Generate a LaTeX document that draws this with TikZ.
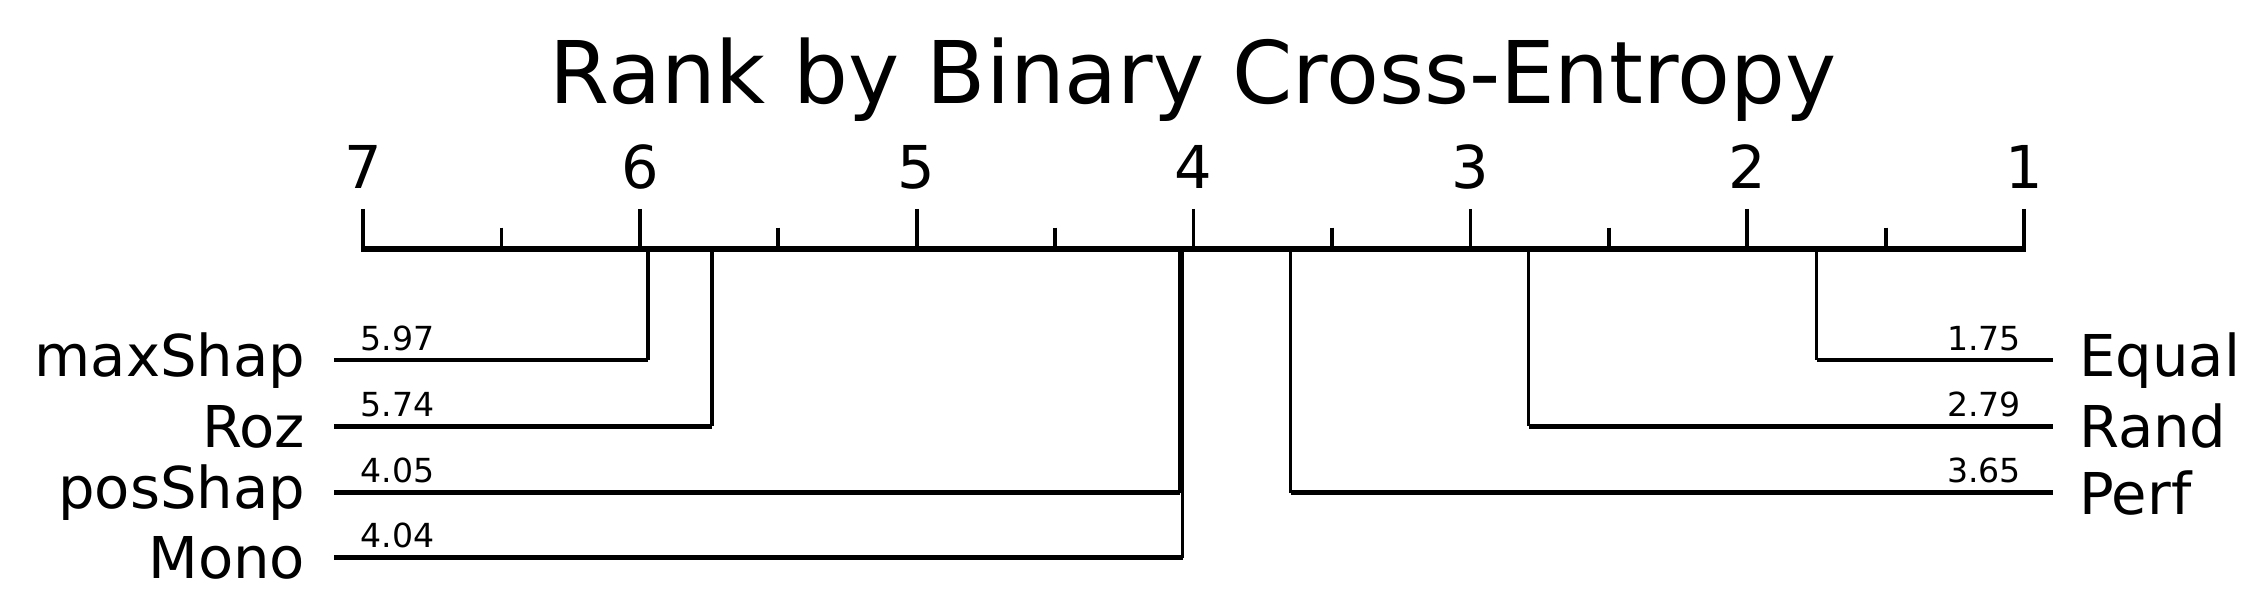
\documentclass[tikz,border=0pt]{standalone}
\usepackage{fontspec}
\setmainfont{DejaVu Sans}
\begin{document}
\begin{tikzpicture}[x=1pt,y=-1pt,
  ln/.style={line width=3.2pt},
  vl/.style={line width=2.6pt},
  tk/.style={line width=2.6pt},
  nm/.style={font=\fontsize{40}{40}\selectfont,inner sep=0pt},
  val/.style={font=\fontsize{23}{23}\selectfont,inner sep=0pt,anchor=base},
  tl/.style={font=\fontsize{41}{41}\selectfont,inner sep=0pt,anchor=base}]
\useasboundingbox (0,0) rectangle (1568,414);
\pgfmathsetmacro{\u}{192.17}
\def\rx#1{{1405-(#1-1)*\u}}
\node[font=\fontsize{60}{60}\selectfont,inner sep=0pt,anchor=base] (title) at (828,72) {Rank by Binary Cross-Entropy};
\coordinate (axL) at (250.7,173);
\coordinate (axR) at (1406.3,173);
\draw[line width=4pt] (axL) -- (axR);
\foreach \r in {1,...,7}{
  \draw[tk] ({1405-(\r-1)*\u},145) -- ({1405-(\r-1)*\u},173);
  \node[tl] at ({1405-(\r-1)*\u},131) {\r};}
\foreach \r in {1.5,2.5,...,6.5}{
  \draw[tk] ({1405-(\r-1)*\u},158) -- ({1405-(\r-1)*\u},173);}
% left
\foreach \v/\y/\n/\id in {5.97/250/maxShap/a,5.74/296/Roz/b,4.05/342/posShap/c,4.04/387/Mono/d}{
  \coordinate (t\id) at ({1405-(\v-1)*\u},173);
  \coordinate (c\id) at ({1405-(\v-1)*\u},\y);
  \coordinate (e\id) at (232,\y);
  \draw[vl] (t\id) -- (c\id);
  \draw[ln] (c\id) -- (e\id);
  \node[nm,anchor=east] (n\id) at (212,\y) {\n};
  \node[val,anchor=base west] (v\id) at (250,\y-7) {\v};}
% right
\foreach \v/\y/\n/\id in {1.75/250/Equal/e,2.79/296/Rand/f,3.65/342/Perf/g}{
  \coordinate (t\id) at ({1405-(\v-1)*\u},173);
  \coordinate (c\id) at ({1405-(\v-1)*\u},\y);
  \coordinate (e\id) at (1425,\y);
  \draw[vl] (t\id) -- (c\id);
  \draw[ln] (c\id) -- (e\id);
  \node[nm,anchor=west] (n\id) at (1443,\y) {\n};
  \node[val,anchor=base east] (v\id) at (1403,\y-7) {\v};}
\end{tikzpicture}
\end{document}
